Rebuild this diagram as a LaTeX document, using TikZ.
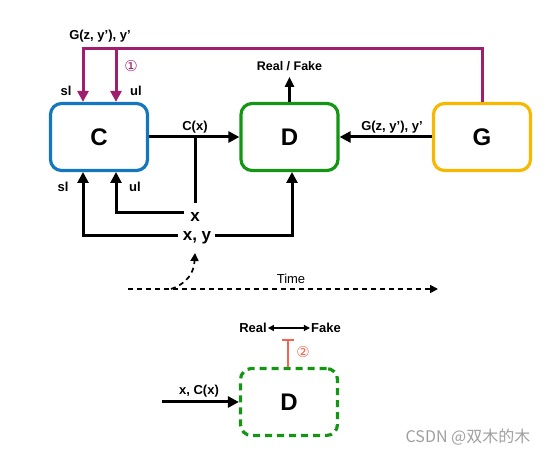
\documentclass[tikz,border=0pt]{standalone}
\usepackage{fontspec}
\setmainfont{Liberation Sans}
\newfontfamily\cjk{Noto Sans CJK SC}
\newfontfamily\dejavu{DejaVu Sans}
\usetikzlibrary{arrows.meta}
\definecolor{cblue}{RGB}{20,118,190}
\definecolor{dgreen}{RGB}{20,150,20}
\definecolor{gyel}{RGB}{246,184,0}
\definecolor{mag}{RGB}{160,30,110}
\definecolor{tred}{RGB}{245,100,80}
\begin{document}
\begin{tikzpicture}[x=1pt,y=-1pt,
  box/.style={draw,line width=3.2pt,rounded corners=11pt,minimum width=97pt,minimum height=67pt,font=\bfseries\fontsize{24}{26}\selectfont,inner sep=0pt},
  lbl/.style={font=\bfseries\fontsize{13}{15}\selectfont,inner sep=1pt},
  big/.style={font=\bfseries\fontsize{17}{19}\selectfont,inner sep=1pt},
  arr/.style={line width=3pt,-{Triangle[length=11pt,width=11pt]}},
  ln/.style={line width=3pt}]
\useasboundingbox (0,0) rectangle (552,454);
\node[box,draw=cblue] (C) at (99,137) {C};
\node[box,draw=dgreen] (D) at (289.5,137) {D};
\node[box,draw=gyel] (G) at (482,137) {G};
% magenta feedback
\coordinate (m1) at (83,49);
\coordinate (m2) at (116,49);
\draw[arr,mag] (G.north) |- (m1) -- (m1 |- C.north);
\draw[arr,mag] (m2) -- (m2 |- C.north);
\node[lbl] (gl) at (100,36) {G(z, y’), y’};
\node[font=\dejavu\fontsize{15}{16}\selectfont,text=mag] (c1) at (131,66) {①};
\node[lbl] (sl1) at (66,91) {sl};
\node[lbl] (ul1) at (136,91) {ul};
% C -> D
\draw[arr] (C.east) -- (D.west);
\node[lbl] (cx) at (195,127) {C(x)};
\coordinate (cj) at (195,137);
\node[big] (x) at (195,217) {x};
\draw[ln] (cj) -- (195,203);
\node[big] (xy) at (197,238) {x, y};
\coordinate (xl) at (184,213);
\draw[arr] (xl) -- (116,213) -- (116,172);
\coordinate (xyl) at (178,236);
\coordinate (xyr) at (215,236);
\draw[arr] (xyl) -- (83,236) -- (83,172);
\draw[arr] (xyr) -- (292,236) -- (292,172);
\node[lbl] (sl2) at (63,187) {sl};
\node[lbl] (ul2) at (135,187) {ul};
% D up
\coordinate (rf) at (289.5,77);
\draw[line width=2.4pt,-{Triangle[length=10pt,width=9pt]}] (D.north) -- (rf);
\node[lbl,font=\bfseries\fontsize{12.5}{14}\selectfont] (rfl) at (289.5,66) {Real / Fake};
% G -> D
\draw[arr] (G.west) -- (D.east);
\node[lbl] (gl2) at (392,127) {G(z, y’), y’};
% time
\coordinate (t0) at (128,289);
\coordinate (t1) at (438,289);
\draw[line width=1.7pt,dash pattern=on 5pt off 4pt,-{Triangle[length=8pt,width=8pt]}] (t0) -- (t1);
\node[font=\fontsize{13}{15}\selectfont] (tl) at (291,279) {Time};
\coordinate (cs) at (171,289);
\draw[line width=1.7pt,dash pattern=on 5pt off 4pt,-{Triangle[length=8pt,width=8pt]}] (cs) .. controls (188,283) and (194,272) .. (195,253);
% bottom
\node[box,draw=dgreen,dash pattern=on 7pt off 5pt] (D2) at (289,402) {D};
\node[lbl] (real) at (253,328) {Real};
\node[lbl] (fake) at (326,328) {Fake};
\draw[line width=1.2pt,{Triangle[length=6pt,width=6pt]}-{Triangle[length=6pt,width=6pt]}] (real.east) -- (fake.west);
\draw[line width=2.8pt,tred] (288,367) -- (288,340);
\draw[line width=2.8pt,tred] (282,340) -- (294,340);
\node[font=\dejavu\fontsize{15}{16}\selectfont,text=tred] (c2) at (303,352) {②};
\coordinate (xin) at (162,402);
\draw[arr] (xin) -- (D2.west);
\node[lbl] (xcx) at (199,391) {x, C(x)};
\node[font=\cjk\fontsize{16}{18}\selectfont,text=gray!75] (wm) at (468,437) {CSDN @双木的木};
\end{tikzpicture}
\end{document}
